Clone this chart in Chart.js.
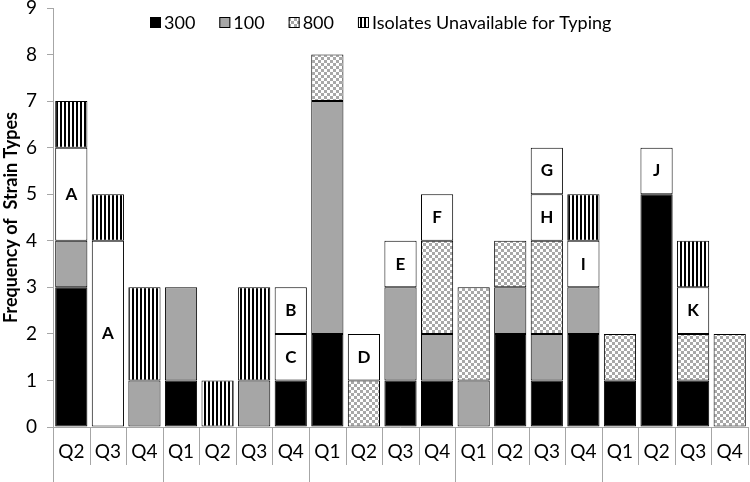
<!DOCTYPE html>
<html lang="en">
<head>
    <meta charset="UTF-8">
    <title>Strain Types by Quarter</title>
    <script src="https://cdn.jsdelivr.net/npm/chart.js@4.4.0/dist/chart.umd.js"></script>
    <style>
        body { margin: 0; background: #ffffff; }
        #strainChart { display: block; }
    </style>
</head>
<body>
    <canvas id="strainChart" width="750" height="482"></canvas>

    <script>
        // Data
        const quarters = ['Q2', 'Q3', 'Q4', 'Q1', 'Q2', 'Q3', 'Q4', 'Q1', 'Q2', 'Q3', 'Q4', 'Q1', 'Q2', 'Q3', 'Q4', 'Q1', 'Q2', 'Q3', 'Q4'];
        const yearStarts = [0, 3, 7, 11, 15];
        const yTicks = [0, 1, 2, 3, 4, 5, 6, 7, 8, 9];

        const type300 = [3, 0, 0, 1, 0, 0, 1, 2, 0, 1, 1, 0, 2, 1, 2, 1, 5, 1, 0];
        const type100 = [1, 0, 1, 2, 0, 1, 0, 5, 0, 2, 1, 1, 1, 1, 1, 0, 0, 0, 0];
        const type800 = [0, 0, 0, 0, 0, 0, 0, 1, 1, 0, 2, 2, 1, 2, 0, 1, 0, 1, 2];
        const otherLower = [2, 4, 0, 0, 0, 0, 1, 0, 1, 1, 1, 0, 0, 1, 1, 0, 1, 1, 0];
        const otherLowerLabels = ['A', 'A', '', '', '', '', 'C', '', 'D', 'E', 'F', '', '', 'H', 'I', '', 'J', 'K', ''];
        const otherUpper = [0, 0, 0, 0, 0, 0, 1, 0, 0, 0, 0, 0, 0, 1, 0, 0, 0, 0, 0];
        const otherUpperLabels = ['', '', '', '', '', '', 'B', '', '', '', '', '', '', 'G', '', '', '', '', ''];
        const unavailable = [1, 1, 2, 0, 1, 2, 0, 0, 0, 0, 0, 0, 0, 0, 1, 0, 0, 1, 0];

        const fontFamily = 'Lato, "Open Sans", sans-serif';

        function checkerPattern(ctx) {
            const c = document.createElement('canvas');
            c.width = 6; c.height = 6;
            const p = c.getContext('2d');
            p.fillStyle = '#ffffff';
            p.fillRect(0, 0, 6, 6);
            p.fillStyle = '#a8a8a8';
            p.fillRect(0, 0, 3, 3);
            p.fillRect(3, 3, 3, 3);
            return ctx.createPattern(c, 'repeat');
        }

        function stripePattern(ctx) {
            const c = document.createElement('canvas');
            c.width = 4; c.height = 4;
            const p = c.getContext('2d');
            p.fillStyle = '#ffffff';
            p.fillRect(0, 0, 4, 4);
            p.fillStyle = '#000000';
            p.fillRect(0, 0, 2, 4);
            return ctx.createPattern(c, 'repeat');
        }

        const ctx = document.getElementById('strainChart').getContext('2d');
        const nz = arr => arr.map(v => v || null);

        // letters in the white boxes
        const segmentLabels = {
            id: 'segmentLabels',
            afterDatasetsDraw(chart) {
                const c = chart.ctx;
                c.save();
                c.font = 'bold 17px ' + fontFamily;
                c.fillStyle = '#000000';
                c.textAlign = 'center';
                c.textBaseline = 'middle';
                chart.data.datasets.forEach((ds, di) => {
                    if (!ds.letters) return;
                    chart.getDatasetMeta(di).data.forEach((bar, i) => {
                        const t = ds.letters[i];
                        if (!t) return;
                        c.fillText(t, bar.x, (bar.y + bar.base) / 2);
                    });
                });
                c.restore();
            }
        };

        // single-row legend sitting inside the plot area
        const topLegend = {
            id: 'topLegend',
            afterDraw(chart) {
                const c = chart.ctx;
                c.save();
                c.font = '18px ' + fontFamily;
                c.textBaseline = 'middle';
                let x = 150;
                const y = 22;
                chart.data.datasets.forEach(ds => {
                    if (ds.letters) return;
                    c.fillStyle = ds.backgroundColor;
                    c.fillRect(x, y - 5, 11, 11);
                    c.strokeStyle = '#000000';
                    c.lineWidth = 1;
                    c.strokeRect(x + 0.5, y - 4.5, 10, 10);
                    c.fillStyle = '#000000';
                    c.fillText(ds.label, x + 14, y + 1);
                    x += 14 + c.measureText(ds.label).width + 24;
                });
                c.restore();
            }
        };

        // table-like separators under the x axis
        const quarterTable = {
            id: 'quarterTable',
            afterDraw(chart) {
                const x = chart.scales.x;
                const c = chart.ctx;
                const bottom = chart.chartArea.bottom;
                const step = x.getPixelForValue(1) - x.getPixelForValue(0);
                c.save();
                c.strokeStyle = '#a6a6a6';
                c.lineWidth = 1;
                c.beginPath();
                c.moveTo(chart.chartArea.left, bottom + 0.5);
                c.lineTo(chart.chartArea.right, bottom + 0.5);
                for (let i = 0; i <= quarters.length; i++) {
                    const px = Math.round(x.getPixelForValue(0) - step / 2 + i * step) + 0.5;
                    const end = yearStarts.includes(i) ? chart.height : bottom + 38;
                    c.moveTo(px, bottom);
                    c.lineTo(px, end);
                }
                c.stroke();
                c.restore();
            }
        };

        const common = { borderColor: '#000000', borderWidth: 1, borderSkipped: false, barPercentage: 0.88, categoryPercentage: 1 };

        new Chart(ctx, {
            type: 'bar',
            data: {
                labels: quarters,
                datasets: [
                    Object.assign({ label: '300', data: nz(type300), backgroundColor: '#000000' }, common),
                    Object.assign({ label: '100', data: nz(type100), backgroundColor: '#a6a6a6' }, common),
                    Object.assign({ label: '800', data: nz(type800), backgroundColor: checkerPattern(ctx) }, common),
                    Object.assign({ label: 'other', data: nz(otherLower), letters: otherLowerLabels, backgroundColor: '#ffffff' }, common),
                    Object.assign({ label: 'other2', data: nz(otherUpper), letters: otherUpperLabels, backgroundColor: '#ffffff' }, common),
                    Object.assign({ label: 'Isolates Unavailable for Typing', data: nz(unavailable), backgroundColor: stripePattern(ctx) }, common)
                ]
            },
            options: {
                responsive: false,
                animation: false,
                layout: { padding: { top: 0, right: 2, bottom: 0, left: 0 } },
                plugins: {
                    legend: { display: false },
                    tooltip: { enabled: false }
                },
                scales: {
                    x: {
                        stacked: true,
                        grid: { display: false },
                        border: { display: false },
                        ticks: { color: '#000000', padding: 5, font: { family: fontFamily, size: 19 } },
                        afterFit: s => { s.height = 55; }
                    },
                    y: {
                        stacked: true,
                        min: 0,
                        max: 9,
                        afterBuildTicks: s => { s.ticks = yTicks.map(v => ({ value: v })); },
                        grid: { drawOnChartArea: false, drawTicks: true, tickLength: 6, color: '#a6a6a6' },
                        border: { color: '#a6a6a6' },
                        ticks: { color: '#000000', padding: 10, font: { family: fontFamily, size: 19 } },
                        title: {
                            display: true,
                            text: 'Frequency of  Strain Types',
                            color: '#000000',
                            padding: 0,
                            font: { family: fontFamily, size: 18, weight: 'bold' }
                        },
                        afterFit: s => { s.width = 53; s.paddingTop = 8; s.paddingBottom = 0; }
                    }
                }
            },
            plugins: [segmentLabels, topLegend, quarterTable]
        });
    </script>
</body>
</html>
